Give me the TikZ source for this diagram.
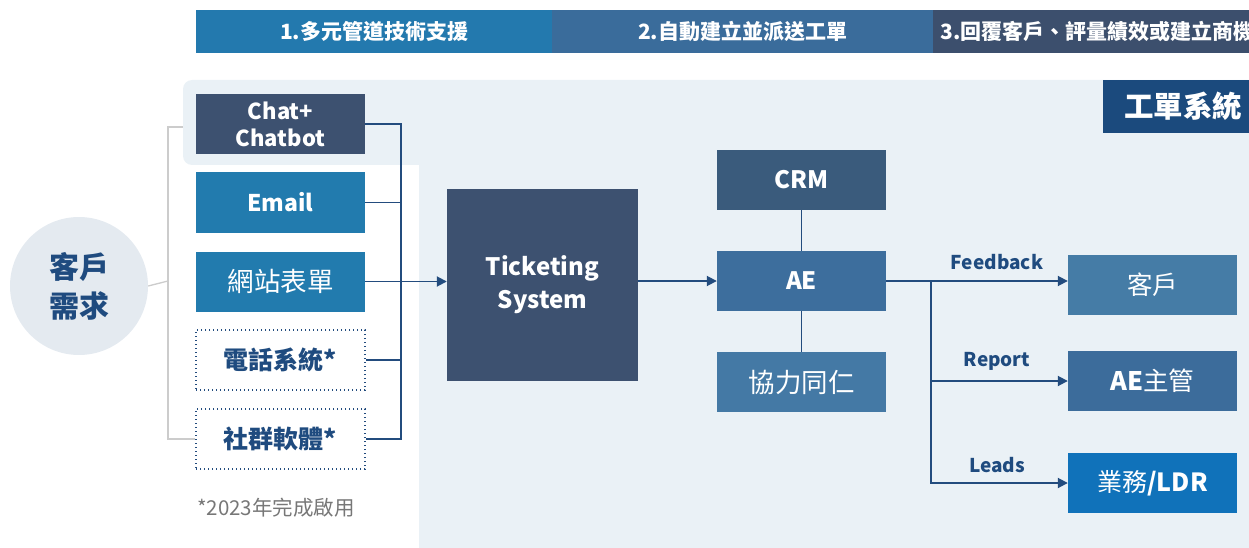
\documentclass[tikz,border=0pt]{standalone}
\usepackage{fontspec}
\setmainfont{Noto Sans CJK TC}
\usetikzlibrary{arrows.meta,backgrounds}
\definecolor{barA}{HTML}{2379AE}
\definecolor{barB}{HTML}{3A6C9B}
\definecolor{barC}{HTML}{3C4F6D}
\definecolor{panel}{HTML}{EAF1F6}
\definecolor{darkbox}{HTML}{3D5170}
\definecolor{mailbox}{HTML}{227BAE}
\definecolor{crmbox}{HTML}{3A5B7C}
\definecolor{aebox}{HTML}{3D6E9D}
\definecolor{coopbox}{HTML}{4479A5}
\definecolor{khbox}{HTML}{457CA6}
\definecolor{aembox}{HTML}{3C6C9B}
\definecolor{ldrbox}{HTML}{1072BA}
\definecolor{gdbox}{HTML}{1B4A7D}
\definecolor{linecol}{HTML}{234C7E}
\definecolor{textblue}{HTML}{1F4B7F}
\definecolor{circfill}{HTML}{E4EAF0}
\definecolor{bracketgray}{HTML}{CCCCCC}
\definecolor{notegray}{HTML}{777777}
\newcommand{\fs}[1]{\fontsize{#1}{#1}\selectfont}
\begin{document}
\begin{tikzpicture}[x=1pt,y=-1pt,
  boxnode/.style={minimum width=169pt,minimum height=60pt,inner sep=0pt,text=white,align=center,font=\fs{23}},
  dotbox/.style={boxnode,draw=linecol,line width=1.6pt,dash pattern=on 1.4pt off 2.6pt,text=textblue,font=\fs{25}\bfseries},
  barnode/.style={minimum height=43pt,inner sep=0pt,text=white,font=\fs{21}\bfseries,anchor=north west},
  conn/.style={draw=linecol,line width=1.8pt},
  arr/.style={conn,-{Triangle[length=10pt,width=10pt]}},
  lbl/.style={text=textblue,font=\fs{19}\bfseries,inner sep=0pt},
]
\useasboundingbox (0,0) rectangle (1249,548);
\clip (0,0) rectangle (1249,548);

% header bars
\node[barnode,fill=barA,minimum width=356pt] (h1) at (196,10) {1.多元管道技術支援};
\node[barnode,fill=barB,minimum width=381pt] (h2) at (552,10) {2.自動建立並派送工單};
\node[barnode,fill=barC,minimum width=330pt] (h3) at (933,10) {};
\node[text=white,font=\fs{21}\bfseries,inner sep=0pt,anchor=west] (h3t) at (940,31.5) {3.回覆客戶、評量績效或建立商機};

% ticket system label
\node[fill=gdbox,minimum width=160pt,minimum height=53pt,inner sep=0pt,anchor=north west] (gdb) at (1103,80) {};
\node[text=white,font=\fs{29.5}\bfseries,inner sep=0pt,anchor=west] (gdt) at (1124,106.5) {工單系統};

% customer demand circle
\node[circle,fill=circfill,minimum size=138pt,inner sep=0pt,align=center,text=textblue,font=\fs{30}\bfseries] (circ) at (79,286) {客戶\\[9pt]需求};

% channel boxes
\node[boxnode,fill=darkbox,font=\fs{22}\bfseries] (chat) at (280.5,124) {Chat+\\[5pt]Chatbot};
\node[boxnode,fill=mailbox,font=\fs{23}\bfseries] (email) at (280.5,202.5) {Email};
\node[boxnode,fill=mailbox,font=\fs{26.5}] (web) at (280.5,281.5) {網站表單};
\node[dotbox] (phone) at (280.5,360) {電話系統*};
\node[dotbox] (soc) at (280.5,439) {社群軟體*};
\node[text=notegray,font=\fs{20.5},inner sep=0pt,anchor=west] (note) at (197,508) {*2023年完成啟用};

% ticketing system
\node[fill=darkbox,minimum width=191pt,minimum height=192pt,inner sep=0pt,text=white,align=center,font=\fs{24}\bfseries] (ticket) at (542.5,285) {Ticketing\\[9pt]System};

% AE column
\node[boxnode,fill=crmbox,font=\fs{24}\bfseries] (crm) at (801.5,180) {CRM};
\node[boxnode,fill=aebox,font=\fs{24}\bfseries] (ae) at (801.5,281) {AE};
\node[boxnode,fill=coopbox,font=\fs{26.5}] (coop) at (801.5,382) {協力同仁};

% outputs
\node[boxnode,fill=khbox,font=\fs{25.5}] (kh) at (1152.5,285) {客戶};
\node[boxnode,fill=aembox,font=\fs{25.5}] (aem) at (1152.5,381) {{\bfseries AE}主管};
\node[boxnode,fill=ldrbox,font=\fs{25}] (ldr) at (1152.5,483) {業務{\bfseries /LDR}};

% connectors
\coordinate (bus) at (401,0);
\draw[conn] (chat.east) -| (soc.east -| bus) -- (soc.east);
\draw[conn] (email.east) -- (email.east -| bus);
\draw[conn] (phone.east) -- (phone.east -| bus);
\draw[arr] (web.east) -- (web.east -| ticket.west);
\draw[arr] (ticket.east |- ae.west) -- (ae.west);
\draw[conn] (crm) -- (ae);
\draw[conn] (ae) -- (coop);
\coordinate (sp) at (931,281);
\draw[arr] (ae.east) -- (ae.east -| kh.west);
\draw[arr] (sp) |- (aem.west);
\draw[arr] (sp) |- (ldr.west);
\node[lbl] (fb) at (997,262) {Feedback};
\node[lbl] (rp) at (997,361) {Report};
\node[lbl] (ld) at (997,465) {Leads};

% background
\begin{scope}[on background layer]
\coordinate (bt) at (196,127);
\coordinate (br) at (168,281);
\draw[bracketgray,line width=1.3pt] (circ.east) -- (br);
\draw[bracketgray,line width=1.3pt] (bt) -| (br) |- (soc.west);
\fill[panel] (419,165) [rounded corners=9pt] -- (183,165) -- (183,80) -- (400,80) [sharp corners] -- (1260,80) -- (1260,560) -- (419,560) -- cycle;
\end{scope}
\end{tikzpicture}
\end{document}
